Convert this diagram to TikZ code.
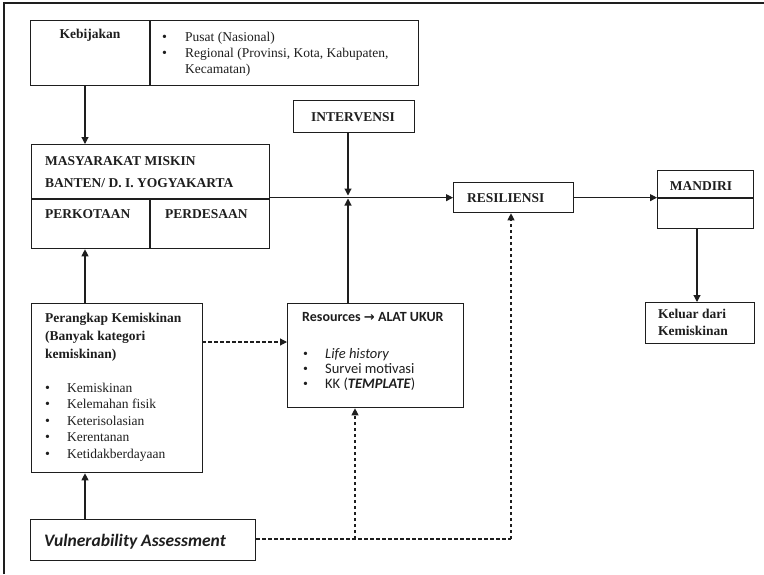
\documentclass[tikz,border=0pt]{standalone}
\usepackage{fontspec}
\setmainfont{Liberation Serif}
\newfontfamily\calib{Carlito}
\newfontfamily\symfont{DejaVu Sans}
\usetikzlibrary{arrows.meta,calc}
\definecolor{inkc}{HTML}{1E1E1E}

\begin{document}
\begin{tikzpicture}[x=1pt,y=-1pt,
  box/.style={draw=inkc, line width=1.3pt, inner sep=0pt, anchor=north west},
  divline/.style={draw=inkc, line width=1.3pt},
  arr/.style={draw=inkc, line width=1.1pt, -{Triangle[length=7pt,width=7pt]}},
  dsh/.style={arr, dash pattern=on 3.5pt off 2.5pt},
  plainline/.style={draw=inkc, line width=1.1pt},
  dline/.style={plainline, dash pattern=on 3.5pt off 2.5pt},
  ttl/.style={anchor=base west, inner sep=0pt, text=inkc,
              font=\fontsize{13.5}{16}\selectfont\bfseries},
  txt/.style={anchor=base west, inner sep=0pt, text=inkc,
              font=\fontsize{13.5}{16}\selectfont},
  cal/.style={anchor=base west, inner sep=0pt, text=inkc,
              font=\calib\fontsize{14.5}{15}\selectfont},
  bul/.style={anchor=base west, inner sep=0pt, text=inkc,
              font=\fontsize{14}{15}\selectfont}
]
\useasboundingbox (0,0) rectangle (764,574);

% outer frame (top and left edges)
\draw[draw=inkc, line width=1.4pt] (4,574) -- (4,3) -- (764,3);

% ---- Kebijakan
\node[box, minimum width=388, minimum height=65] (keb) at (30,20) {};
\draw[divline] (150,20) -- (150,85);
\node[ttl, anchor=base] (tkeb) at (90,38) {Kebijakan};
\node[bul] (kb1) at (162,41) {\textbullet};
\node[txt] (k1) at (185,41) {Pusat (Nasional)};
\node[bul] (kb2) at (162,57) {\textbullet};
\node[txt] (k2) at (185,57) {Regional (Provinsi, Kota, Kabupaten,};
\node[txt] (k3) at (185,73) {Kecamatan)};

% ---- Masyarakat miskin
\node[box, minimum width=238, minimum height=104] (mas) at (31,144) {};
\draw[divline] (31,199) -- (269,199);
\draw[divline] (150,199) -- (150,248);
\node[ttl] (m1) at (45,165) {MASYARAKAT MISKIN};
\node[ttl] (m2) at (45,187) {BANTEN/ D. I. YOGYAKARTA};
\node[ttl] (m3) at (45,218) {PERKOTAAN};
\node[ttl] (m4) at (165,218) {PERDESAAN};

% ---- Intervensi
\node[box, minimum width=121, minimum height=32] (int) at (293,100) {};
\node[ttl, anchor=base] (tint) at (353,121) {INTERVENSI};

% ---- Resiliensi
\node[box, minimum width=120, minimum height=30] (res) at (453,182) {};
\node[ttl] (tres) at (467,202) {RESILIENSI};

% ---- Mandiri
\node[box, minimum width=96, minimum height=58] (man) at (657,170) {};
\draw[divline] (657,198) -- (753,198);
\node[ttl, anchor=base] (tman) at (701,190) {MANDIRI};

% ---- Keluar dari kemiskinan
\node[box, minimum width=109, minimum height=41] (kel) at (645,302) {};
\node[ttl] (kl1) at (658,318) {Keluar dari};
\node[ttl] (kl2) at (658,335) {Kemiskinan};

% ---- Perangkap kemiskinan
\node[box, minimum width=171, minimum height=169] (per) at (31,303) {};
\node[ttl] (p1) at (45,322) {Perangkap Kemiskinan};
\node[ttl] (p2) at (45,340) {(Banyak kategori};
\node[ttl] (p3) at (45,358) {kemiskinan)};
\foreach \i/\t/\y in {1/Kemiskinan/392, 2/Kelemahan fisik/408, 3/Keterisolasian/425,
                     4/Kerentanan/441, 5/Ketidakberdayaan/458}{
  \node[bul] (pb\i) at (45,\y) {\textbullet};
  \node[txt] (pt\i) at (67,\y) {\t};
}

% ---- Resources / alat ukur
\node[box, minimum width=176, minimum height=104] (rsc) at (287,303) {};
\node[cal, font=\calib\bfseries\fontsize{14}{15}\selectfont] (r0) at (302,321)
  {Resources {\symfont\bfseries\fontsize{13}{15}\selectfont →} ALAT UKUR};
\node[bul] (rb1) at (303,358) {\textbullet};
\node[cal] (r1) at (325,358) {\itshape Life history};
\node[bul] (rb2) at (303,373) {\textbullet};
\node[cal] (r2) at (325,373) {Survei motivasi};
\node[bul] (rb3) at (303,388) {\textbullet};
\node[cal] (r3) at (325,388) {KK (\textbf{\textit{TEMPLATE}})};

% ---- Vulnerability assessment
\node[box, minimum width=225, minimum height=41] (va) at (30,519) {};
\node[anchor=base west, inner sep=0pt, text=inkc,
      font=\calib\bfseries\itshape\fontsize{17.5}{18}\selectfont] (tva) at (44,546)
  {Vulnerability Assessment};

% ---- connectors
\coordinate (kebdown) at (85,85);
\draw[arr] (kebdown) -- (kebdown |- mas.north);

\draw[arr] (mas.east |- res.west) -- (res.west);

\coordinate (intdown) at (348,132);
\coordinate (cross) at (348,197);
\draw[arr] (intdown) -- ($(cross)+(0,-1.5)$);
\coordinate (rscup) at (348,303);
\draw[arr] (rscup) -- ($(cross)+(0,1.5)$);

\draw[arr] (res.east) -- (res.east -| man.west);

\coordinate (mandown) at (697,228);
\draw[arr] (mandown) -- (mandown |- kel.north);

\coordinate (perup) at (85,303);
\draw[arr] (perup) -- (perup |- mas.south);

\coordinate (vaup) at (85,519);
\draw[arr] (vaup) -- (vaup |- per.south);

\coordinate (perdash) at (202,342);
\draw[dsh] (perdash) -- (perdash -| rsc.west);

\coordinate (vb1) at (355,539);
\coordinate (vb2) at (511,539);
\draw[dline] (va.east |- vb1) -- (vb2);
\draw[dsh] (vb1) -- (vb1 |- rsc.south);
\draw[dsh] (vb2) -- (vb2 |- res.south);
\end{tikzpicture}
\end{document}
